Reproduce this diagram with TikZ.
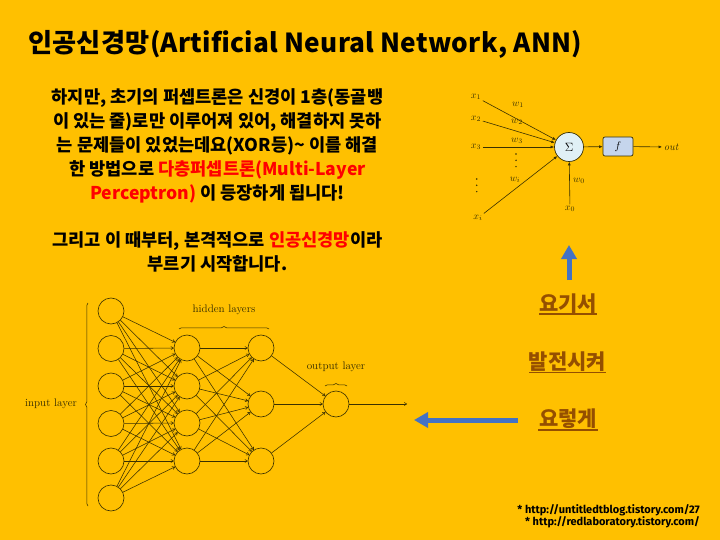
\documentclass[tikz,border=0pt]{standalone}
\usepackage{xcolor}
\usepackage{amsmath, amsfonts}
\usepackage{fontspec}
\usepackage{tikz}
\usetikzlibrary{positioning, arrows.meta, decorations.pathreplacing}
\newfontfamily\kofont{Noto Sans CJK KR}
\newfontfamily\kowide[LetterSpace=1]{Noto Sans CJK KR}
\newfontfamily\linkfont{Fira Sans}
\definecolor{bgyellow}{HTML}{FFC000}
\definecolor{arrowblue}{HTML}{4472C4}
\definecolor{linkbrown}{HTML}{954F00}
\definecolor{sumfill}{HTML}{E0F0F5}
\definecolor{funcfill}{HTML}{C5D5EC}
\definecolor{netline}{HTML}{3A3000}

\begin{document}
\begin{tikzpicture}[
    x=1pt, y=-1pt,
    title/.style={font=\kowide\bfseries\fontsize{26.2}{30}\selectfont, anchor=west, inner sep=0pt},
    body/.style={font=\kofont\bfseries\fontsize{17.6}{23.9}\selectfont, align=center, inner sep=0pt},
    golink/.style={font=\kofont\bfseries\fontsize{21}{24}\selectfont, text=linkbrown, inner sep=0pt},
    goline/.style={draw=linkbrown, line width=1.3pt},
    source/.style={font=\linkfont\bfseries\fontsize{11}{12}\selectfont, anchor=east, inner sep=0pt},
    neuron/.style={circle, draw=netline, line width=0.6pt, minimum size=26pt, inner sep=0pt},
    wire/.style={-{To[length=3pt,width=3.5pt]}, draw=netline, line width=0.55pt},
    layerlab/.style={font=\fontsize{10.9}{12}\selectfont, text=netline, inner sep=0pt},
    lbrace/.style={draw=netline, line width=0.5pt, decorate},
    perlab/.style={font=\fontsize{10}{12}\selectfont, text=netline, inner sep=1.5pt},
    perwire/.style={-{Latex[length=3.5pt,width=3pt]}, draw=netline, line width=0.6pt},
    bigarrow/.style={-{Triangle[length=14pt,width=15pt]}, draw=arrowblue, line width=5pt}
]
\fill[bgyellow] (0,0) rectangle (720,540);
\useasboundingbox (0,0) rectangle (720,540);

\node[title] (head) at (28,44) {인공신경망(Artificial Neural Network, ANN)};

\node[body] (txt) at (217.5,180.5) {
    하지만, 초기의 퍼셉트론은 신경이 1층(동골뱅\\
    이 있는 줄)로만 이루어져 있어, 해결하지 못하\\
    는 문제들이 있었는데요(XOR등)\textasciitilde{} 이를 해결\\
    한 방법으로 \textcolor{red}{다층퍼셉트론(Multi-Layer}\\
    \textcolor{red}{Perceptron)} 이 등장하게 됩니다!\\[23.9pt]
    그리고 이 때부터, 본격적으로 \textcolor{red}{인공신경망}이라\\
    부르기 시작합니다.};

% perceptron
\node[circle, draw=netline, fill=sumfill, line width=0.7pt, minimum size=29pt, inner sep=0pt, font=\fontsize{12}{14}\selectfont] (sum) at (569,147) {$\Sigma$};
\node[draw=netline, fill=funcfill, rounded corners=2pt, line width=0.7pt, minimum width=30pt, minimum height=19pt, inner sep=0pt, font=\fontsize{11}{13}\selectfont] (func) at (618,146.5) {$f$};
\node[perlab] (x1) at (476,97) {$x_1$};
\node[perlab] (x2) at (476,119) {$x_2$};
\node[perlab] (x3) at (476,147) {$x_3$};
\node[perlab] (xi) at (478,218) {$x_i$};
\node[perlab] (x0) at (570,209) {$x_0$};
\node[perlab] (w1) at (518,105) {$w_1$};
\node[perlab] (w2) at (517,122) {$w_2$};
\node[perlab] (w3) at (517,141) {$w_3$};
\node[perlab] (wi) at (515,180) {$w_i$};
\node[perlab] (w0) at (579,181) {$w_0$};
\node[perlab, font=\fontsize{10.5}{12}\selectfont\itshape] (out) at (671,147) {out};
\foreach \s in {x1,x2,x3,xi,x0}
    \draw[perwire] (\s) -- (sum);
\draw[perwire] (sum) -- (func);
\draw[perwire] (func) -- (out);
\foreach \ypos in {179,185.3,191.6}
    \fill[netline] (476.7,\ypos) circle (0.8pt);
\foreach \ypos in {154,160.3,166.6}
    \fill[netline] (516,\ypos) circle (0.8pt);

% network
\foreach \n/\ypos in {1/311,2/348.5,3/386,4/423.5,5/461,6/498}
    \node[neuron] (in\n) at (111,\ypos) {};
\foreach \n/\ypos in {1/348,2/386,3/423,4/461}
    \node[neuron] (ha\n) at (187,\ypos) {};
\foreach \n/\ypos in {1/348,2/404,3/461}
    \node[neuron] (hb\n) at (261,\ypos) {};
\node[neuron] (res) at (336,404) {};
\coordinate (resend) at (407,404);
\foreach \a in {1,...,6}
    \foreach \b in {1,...,4}
        \draw[wire] (in\a) -- (ha\b);
\foreach \a in {1,...,4}
    \foreach \b in {1,...,3}
        \draw[wire] (ha\a) -- (hb\b);
\foreach \a in {1,...,3}
    \draw[wire] (hb\a) -- (res);
\draw[wire] (res) -- (resend);

\draw[lbrace, decoration={brace, amplitude=2.5pt}] (88,506) -- (88,303);
\draw[lbrace, decoration={brace, amplitude=2.5pt}] (179,329) -- (269,329);
\draw[lbrace, decoration={brace, amplitude=2.5pt}] (325,386) -- (347,386);
\node[layerlab] (inlab) at (51,404) {input layer};
\node[layerlab] (hidlab) at (224,310) {hidden layers};
\node[layerlab] (reslab) at (336,366.5) {output layer};

% links and arrows
\node[golink] (here) at (568,304) {요기서};
\node[golink] (grow) at (567.5,362) {발전시켜};
\node[golink] (that) at (568,419) {요렇게};
\draw[goline] (539,314) -- (597,314);
\draw[goline] (529,372.5) -- (606,372.5);
\draw[goline] (538,430) -- (598,430);

\coordinate (upA) at (569,280);
\coordinate (upB) at (569,245);
\coordinate (lfA) at (518,420);
\coordinate (lfB) at (414,420);
\draw[bigarrow] (upA) -- (upB);
\draw[bigarrow] (lfA) -- (lfB);

\node[source] (srcA) at (700,510) {* http://untitledtblog.tistory.com/27};
\node[source] (srcB) at (700,522.5) {* http://redlaboratory.tistory.com/};
\end{tikzpicture}
\end{document}
